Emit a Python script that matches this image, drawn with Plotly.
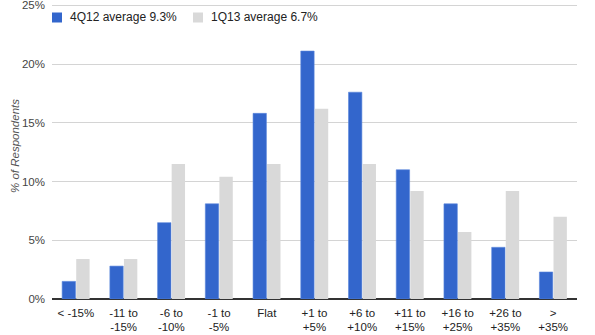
import plotly.graph_objects as go

# Expected revenue change buckets
categories = ["< -15%", "-11 to<br>-15%", "-6 to<br>-10%", "-1 to<br>-5%", "Flat",
              "+1 to<br>+5%", "+6 to<br>+10%", "+11 to<br>+15%", "+16 to<br>+25%",
              "+26 to<br>+35%", "><br>+35%"]

# Share of respondents (%) per bucket
q4_2012 = [1.5, 2.8, 6.5, 8.1, 15.8, 21.1, 17.6, 11.0, 8.1, 4.4, 2.3]
q1_2013 = [3.4, 3.4, 11.5, 10.4, 11.5, 16.2, 11.5, 9.2, 5.7, 9.2, 7.0]

series_names = ["4Q12 average 9.3%", "1Q13 average 6.7%"]
y_ticks = [0, 5, 10, 15, 20, 25]
y_tick_labels = ["0%", "5%", "10%", "15%", "20%", "25%"]
y_title = "% of Respondents"

BLUE = "#3366cc"
GREY = "#d9d9d9"
FONT = "Liberation Sans, Arial, sans-serif"

fig = go.Figure()
fig.add_trace(go.Bar(x=categories, y=q4_2012, name=series_names[0],
                     marker=dict(color=BLUE, line=dict(color="#5b86db", width=0.6))))
fig.add_trace(go.Bar(x=categories, y=q1_2013, name=series_names[1],
                     marker=dict(color=GREY, line=dict(width=0))))

L, R, T, B = 52, 18, 1, 36
W, H = 595, 335
plot_h = H - T - B
plot_w = W - L - R
PX_PER_PCT = 11.75

fig.update_layout(
    width=W, height=H,
    margin=dict(l=L, r=R, t=T, b=B),
    paper_bgcolor="white", plot_bgcolor="white",
    barmode="group", bargap=0.41, bargroupgap=0.05,
    showlegend=False,
    font=dict(family=FONT, size=11.5, color="#222222"),
    xaxis=dict(showgrid=False, showline=False, ticks="", automargin=False,
               tickfont=dict(size=11.5, color="#222222"),
               ticklabelstandoff=5),
    yaxis=dict(range=[0, plot_h / PX_PER_PCT], tickmode="array",
               tickvals=y_ticks, ticktext=y_tick_labels, automargin=False,
               ticklabeloverflow="allow",
               showgrid=True, gridcolor="#d4d4d4", gridwidth=1,
               zeroline=True, zerolinecolor="#333333", zerolinewidth=1.5,
               showline=False, ticks="", ticklabelstandoff=6,
               tickfont=dict(size=11.5, color="#444444")),
)

def px_x(p):
    return (p - L) / plot_w
def px_y(p):
    return (H - B - p) / plot_h

# Rotated y-axis title
fig.add_annotation(xref="paper", yref="paper", x=px_x(15), y=px_y(146),
                   text=f"<i>{y_title}</i>", showarrow=False, textangle=-90,
                   xanchor="center", yanchor="middle",
                   font=dict(size=11.5, color="#555555"))

# Legend drawn as swatches plus labels along the top of the plot
legend_items = [(52, BLUE, series_names[0]), (193, GREY, series_names[1])]
for x0, col, label in legend_items:
    fig.add_shape(type="rect", xref="paper", yref="paper",
                  x0=px_x(x0), x1=px_x(x0 + 10), y0=px_y(22.5), y1=px_y(12.5),
                  fillcolor=col, line=dict(width=0))
    fig.add_annotation(xref="paper", yref="paper", x=px_x(x0 + 16), y=px_y(17.5),
                       text=label, showarrow=False, xanchor="left", yanchor="middle",
                       font=dict(size=12, color="#222222"))

fig.write_html("out.html")
